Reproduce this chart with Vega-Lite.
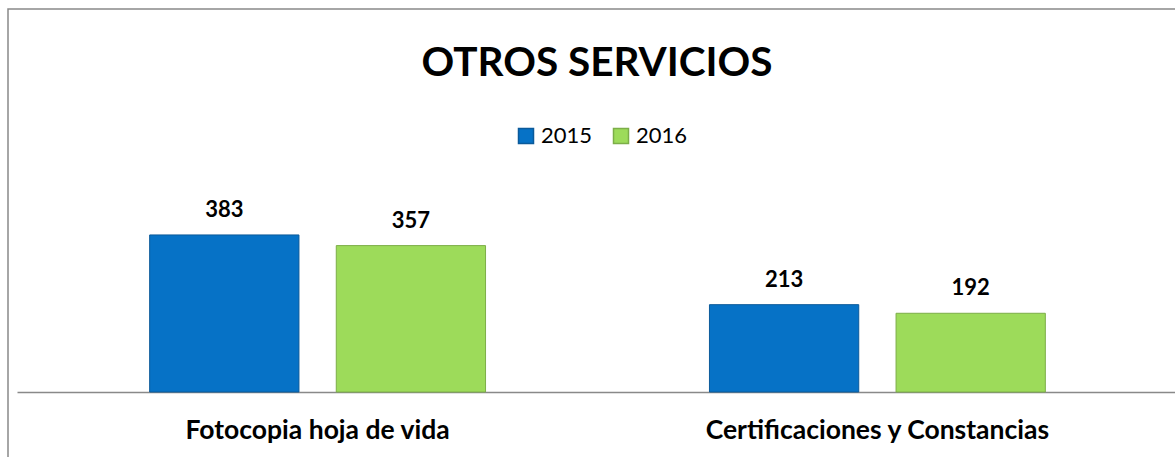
{
  "$schema": "https://vega.github.io/schema/vega-lite/v6.json",
  "width": 1170,
  "height": 460,
  "autosize": {"type": "none"},
  "padding": {"left": 8, "top": 9, "right": 0, "bottom": 0},
  "background": "white",
  "config": {"view": {"stroke": "#898989", "strokeWidth": 1.5}, "font": "Lato"},
  "title": {"text": "OTROS SERVICIOS", "font": "Lato", "fontSize": 40.5, "fontWeight": "bold", "color": "#000000", "anchor": "middle", "baseline": "alphabetic", "offset": -107, "dx": 4},
  "data": {"values": [
    {"servicio": "Fotocopia hoja de vida", "anio": "2015", "valor": 383},
    {"servicio": "Fotocopia hoja de vida", "anio": "2016", "valor": 357},
    {"servicio": "Certificaciones y Constancias", "anio": "2015", "valor": 213},
    {"servicio": "Certificaciones y Constancias", "anio": "2016", "valor": 192}
  ]},
  "layer": [
    {
      "mark": {"type": "bar", "strokeWidth": 1},
      "encoding": {
        "x": {"field": "servicio", "type": "nominal", "sort": null,
          "scale": {"range": [9, 1170], "paddingInner": 0.4, "paddingOuter": 0.237},
          "axis": {"orient": "bottom", "offset": -77, "title": null, "domainColor": "#898989", "domainWidth": 1.5, "ticks": false, "grid": false, "labelFont": "Lato", "labelFontSize": 26.5, "labelFontWeight": "bold", "labelColor": "#000000", "labelPadding": 46, "labelBaseline": "alphabetic", "labelAngle": 0, "labelLimit": 0}},
        "xOffset": {"field": "anio", "type": "nominal", "scale": {"paddingInner": 0.2, "paddingOuter": 0}},
        "y": {"field": "valor", "type": "quantitative", "scale": {"domain": [0, 934], "range": [383, 0], "nice": false, "zero": true}, "axis": null},
        "color": {"field": "anio", "type": "nominal", "scale": {"domain": ["2015", "2016"], "range": ["#0672c6", "#9ddb5a"]},
          "legend": {"orient": "none", "legendX": 507, "legendY": 116, "direction": "horizontal", "title": null, "symbolType": "square", "symbolSize": 225, "labelFont": "Lato", "labelFontSize": 22, "labelColor": "#000000", "labelOffset": 4, "columnPadding": 17, "padding": 0, "symbolOpacity": 1}},
        "stroke": {"field": "anio", "type": "nominal", "scale": {"domain": ["2015", "2016"], "range": ["#0b5a9a", "#7cae48"]}, "legend": null}
      }
    },
    {
      "mark": {"type": "text", "dy": -18, "baseline": "alphabetic", "align": "center", "font": "Lato", "fontSize": 22, "fontWeight": "bold", "color": "#000000"},
      "encoding": {
        "x": {"field": "servicio", "type": "nominal", "sort": null},
        "xOffset": {"field": "anio", "type": "nominal"},
        "y": {"field": "valor", "type": "quantitative"},
        "text": {"field": "valor", "type": "quantitative"}
      }
    }
  ]
}
